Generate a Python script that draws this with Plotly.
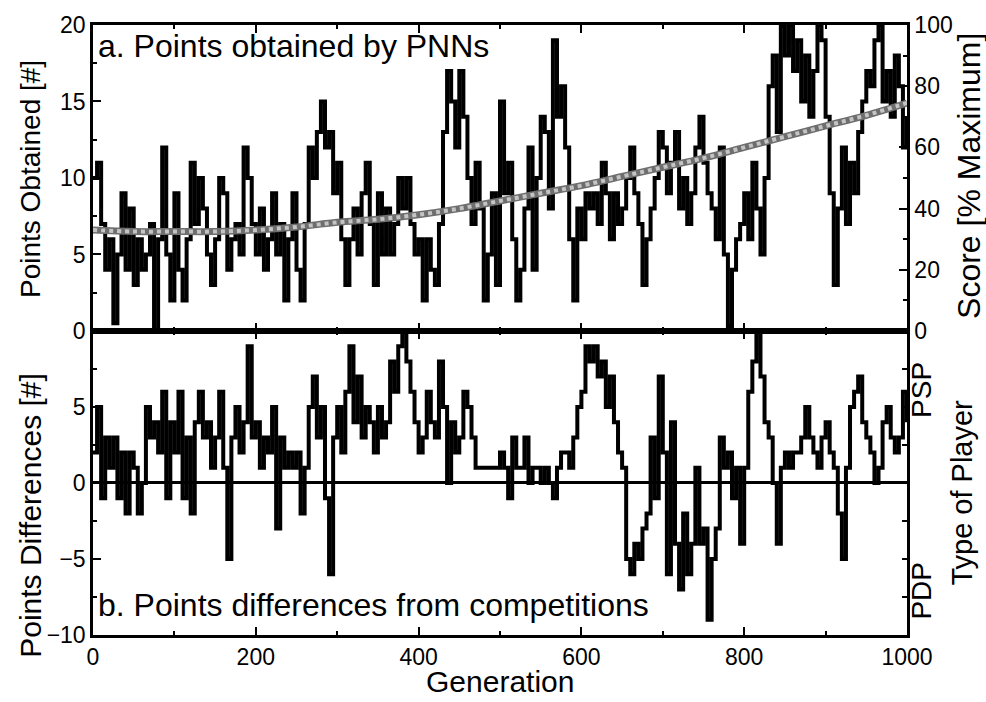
import plotly.graph_objects as go

# ---------------- data (every 5 generations) ----------------
generations = list(range(0, 1001, 5))

points_obtained = [
    10, 11, 7, 4, 6, 0.5, 5, 9, 4, 8,
    3, 6, 4, 5, 7, 0, 6, 12, 5, 2,
    9, 4, 2, 6, 11, 7, 10, 8, 5, 3,
    6, 10, 9, 4, 6, 7, 5, 12, 10, 7,
    5, 8, 4, 6, 9, 5, 7, 2, 6, 9,
    4, 2, 7, 12, 10, 13, 15, 12, 13, 9,
    11, 6, 3, 6, 8, 5, 9, 11, 7, 3,
    9, 5, 8, 5, 7, 10, 8, 10, 7, 5,
    6, 2, 6, 4, 3, 7, 13, 17, 15, 12,
    17, 14, 10, 7, 11, 8, 2, 5, 9, 3,
    15, 9, 11, 6, 2, 4, 8, 12, 4, 10,
    14, 13, 8, 19, 14, 16, 12, 6, 2, 8,
    6, 9, 8, 9, 7, 11, 9, 6, 9, 7,
    8, 10, 12, 9, 7, 3, 6, 8, 10, 13,
    12, 9, 11, 13, 8, 10, 7, 9, 12, 14,
    11, 9, 8, 6, 12, 5, 0.3, 4, 6, 7,
    9, 6, 11, 8, 5, 10, 16, 18, 13, 20,
    18, 20, 17, 19, 15, 18, 14, 17, 20, 19,
    14, 9, 3, 8, 12, 7, 11, 9, 13, 15,
    17, 16, 19, 20, 15, 17, 14, 18, 16, 12,
    14,
]

points_difference = [
    2, 5, -1, 3, 1, 3, -1, 2, -2, 2,
    1, -2, 0, 5, 3, 4, 2, 6, -1, 4,
    2, 6, -1, 3, -2, 4, 6, 3, 4, 1,
    3, 6, 1, -5, 3, 5, 2, 4, 9, 3,
    4, 1, 3, 2, 5, -3, 3, 1, 2, 1,
    2, -2, 1, 5, 7, 3, 5, -1, -6, 3,
    5, 2, 6, 9, 4, 7, 3, 5, 4, 2,
    5, 3, 4, 8, 6, 9, 10, 8, 6, 4,
    2, 3, 6, 4, 3, 8, 5, 0, 4, 2,
    3, 6, 5, 3, 1, 1, 1, 1, 1, 1,
    2, 1, -1, 3, 1, 1, 3, 0, 1, 1,
    0, 1, 0, -1, 1, 2, 2, 1, 3, 5,
    6, 9, 8, 9, 7, 8, 5, 7, 4, 2,
    1, -5, -6, -4, -5, -3, -2, 3, -1, 7,
    2, -6, 4, -4, -7, -2, -6, -4, 1, -4,
    -3, -9, -5, -3, 3, 1, 2, -1, 1, -4,
    1, 6, 8, 10, 7, 4, 3, 0, -4, 1,
    2, 1, 2, 2, 3, 5, 3, 2, 1, 3,
    4, 2, 1, -2, -5, 1, 5, 6, 7, 4,
    3, 2, 0, 1, 4, 5, 3, 2, 3, 6,
    4,
]

trend_generations = [0, 50, 100, 150, 200, 250, 300, 350, 400, 450, 500,
                     550, 600, 650, 700, 750, 800, 850, 900, 950, 1000]
trend_points = [6.6, 6.5, 6.5, 6.5, 6.6, 6.8, 7.1, 7.3, 7.6, 8.0, 8.5,
                9.0, 9.5, 10.1, 10.7, 11.3, 12.0, 12.7, 13.4, 14.1, 14.9]

x_ticks = [0, 200, 400, 600, 800, 1000]
top_left_ticks = [0, 5, 10, 15, 20]
top_right_ticks = [0, 20, 40, 60, 80, 100]
bottom_left_ticks = [-10, -5, 0, 5]
player_labels = ["PSP", "PDP"]
player_label_pos = [6.1, -7.1]

# ---------------- figure ----------------
FONT = "Liberation Sans, Arial, sans-serif"
BLACK = "#000000"

fig = go.Figure()

fig.add_trace(go.Scatter(x=generations, y=points_obtained, mode="lines",
                         line=dict(color=BLACK, width=4, shape="hv"),
                         xaxis="x", yaxis="y", showlegend=False))
fig.add_trace(go.Scatter(x=trend_generations, y=trend_points, mode="lines",
                         line=dict(color="#6e6e6e", width=7, shape="spline"),
                         xaxis="x", yaxis="y", showlegend=False))
fig.add_trace(go.Scatter(x=trend_generations, y=trend_points, mode="lines",
                         line=dict(color="#c4c4c4", width=4, shape="spline", dash="dot"),
                         xaxis="x", yaxis="y", showlegend=False))
# invisible helper so the right-hand score axis is drawn
fig.add_trace(go.Scatter(x=[0], y=[0], mode="markers", marker=dict(opacity=0),
                         xaxis="x", yaxis="y2", showlegend=False, hoverinfo="skip"))

fig.add_trace(go.Scatter(x=generations, y=points_difference, mode="lines",
                         line=dict(color=BLACK, width=4, shape="hv"),
                         xaxis="x2", yaxis="y3", showlegend=False))
fig.add_trace(go.Scatter(x=[0], y=[0], mode="markers", marker=dict(opacity=0),
                         xaxis="x2", yaxis="y4", showlegend=False, hoverinfo="skip"))

split = 0.4984
common_axis = dict(showline=True, linecolor=BLACK, linewidth=2.5, showgrid=False,
                   zeroline=False, ticks="inside", tickcolor=BLACK, tickwidth=2,
                   ticklen=8, tickfont=dict(family=FONT, size=23, color=BLACK))

fig.update_layout(
    width=986, height=702,
    margin=dict(l=93, r=79, t=23, b=67),
    paper_bgcolor="white", plot_bgcolor="white",
    font=dict(family=FONT, color=BLACK),
    xaxis=dict(common_axis, domain=[0, 1], anchor="y", range=[0, 1000],
               tickvals=x_ticks, showticklabels=False, mirror="ticks",
               minor=dict(ticks="inside", ticklen=4, tickwidth=2, tickcolor=BLACK, dtick=100)),
    yaxis=dict(common_axis, domain=[split, 1], anchor="x", range=[0, 20],
               tickvals=top_left_ticks, mirror=True,
               minor=dict(ticks="inside", ticklen=4, tickwidth=2, tickcolor=BLACK, dtick=2.5)),
    yaxis2=dict(common_axis, overlaying="y", side="right", anchor="x", range=[0, 100],
                tickvals=top_right_ticks,
                minor=dict(ticks="inside", ticklen=4, tickwidth=2, tickcolor=BLACK, dtick=10)),
    xaxis2=dict(common_axis, domain=[0, 1], anchor="y3", range=[0, 1000],
                tickvals=x_ticks, mirror="ticks",
                minor=dict(ticks="inside", ticklen=4, tickwidth=2, tickcolor=BLACK, dtick=100)),
    yaxis3=dict(common_axis, domain=[0, split], anchor="x2", range=[-10, 10],
                tickvals=bottom_left_ticks, mirror=True,
                zeroline=True, zerolinecolor=BLACK, zerolinewidth=2.5,
                minor=dict(ticks="inside", ticklen=4, tickwidth=2, tickcolor=BLACK, dtick=2.5)),
    yaxis4=dict(common_axis, overlaying="y3", side="right", anchor="x2", range=[-10, 10],
                tickvals=[-7.5, -5, -2.5, 2.5, 5, 7.5], showticklabels=False, ticklen=5),
)

annotations = [
    dict(text="a. Points obtained by PNNs", x=0.004, y=0.966, xref="paper", yref="paper",
         xanchor="left", yanchor="middle", showarrow=False, font=dict(family=FONT, size=32, color=BLACK)),
    dict(text="b. Points differences from competitions", x=0.004, y=0.049, xref="paper", yref="paper",
         xanchor="left", yanchor="middle", showarrow=False, font=dict(family=FONT, size=32, color=BLACK)),
    dict(text="Points Obtained [#]", x=-0.077, y=0.748, xref="paper", yref="paper",
         textangle=-90, xanchor="center", yanchor="middle", showarrow=False,
         font=dict(family=FONT, size=28, color=BLACK)),
    dict(text="Points Differences [#]", x=-0.077, y=0.196, xref="paper", yref="paper",
         textangle=-90, xanchor="center", yanchor="middle", showarrow=False,
         font=dict(family=FONT, size=30, color=BLACK)),
    dict(text="Score [% Maximum]", x=1.077, y=0.752, xref="paper", yref="paper",
         textangle=-90, xanchor="center", yanchor="middle", showarrow=False,
         font=dict(family=FONT, size=32, color=BLACK)),
    dict(text="Type of Player", x=1.068, y=0.234, xref="paper", yref="paper",
         textangle=-90, xanchor="center", yanchor="middle", showarrow=False,
         font=dict(family=FONT, size=29, color=BLACK)),
    dict(text="Generation", x=0.5, y=-0.076, xref="paper", yref="paper",
         xanchor="center", yanchor="middle", showarrow=False, font=dict(family=FONT, size=30, color=BLACK)),
]
for lab, pos in zip(player_labels, player_label_pos):
    annotations.append(dict(text=lab, x=1.018, y=pos, xref="paper", yref="y3",
                            textangle=-90, xanchor="center", yanchor="middle",
                            showarrow=False, font=dict(family=FONT, size=28, color=BLACK)))
fig.update_layout(annotations=annotations)

fig.write_html("out.html", config={"displayModeBar": False},
               post_script="document.body.style.margin='0';document.body.style.padding='0';"
                           "document.body.style.overflow='hidden';")
